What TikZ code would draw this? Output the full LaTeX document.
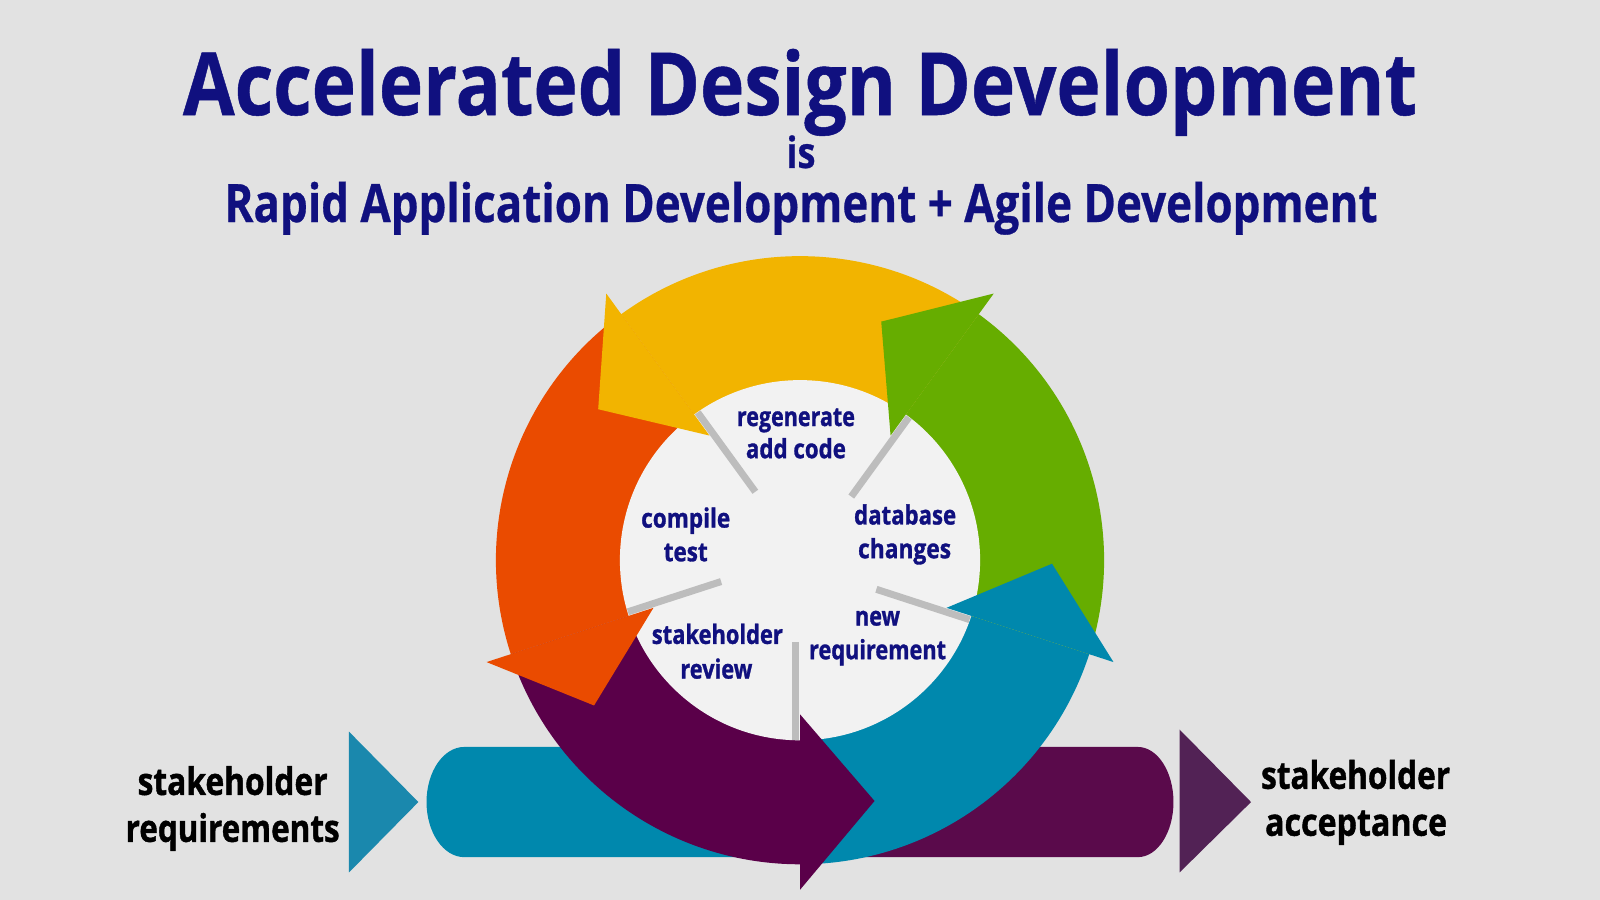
\documentclass[tikz,border=0pt]{standalone}
\usepackage{fontspec}
\setmainfont{Open Sans}
\newfontfamily\heavyfont{Open Sans}[BoldFeatures={FakeBold=1.2}]
\newfontfamily\semiheavy{Open Sans}[BoldFeatures={FakeBold=0.6}]
\usepackage{graphicx}
\usetikzlibrary{calc}
\definecolor{bgc}{HTML}{E2E2E2}
\definecolor{navy}{HTML}{10107F}
\definecolor{yell}{HTML}{F2B400}
\definecolor{grn}{HTML}{66AD00}
\definecolor{tealc}{HTML}{0088AD}
\definecolor{purp}{HTML}{5A0049}
\definecolor{orng}{HTML}{EA4B00}
\definecolor{disk}{HTML}{F2F2F2}
\definecolor{divc}{HTML}{BDBDBD}
\definecolor{barpurp}{HTML}{5A0A4B}
\definecolor{tril}{HTML}{1A88AD}
\definecolor{trir}{HTML}{522255}
\tikzset{
  ttl/.style={text=navy, anchor=base, inner sep=0pt, font=\semiheavy\bfseries\fontsize{87}{87}\selectfont},
  sub/.style={text=navy, anchor=base, inner sep=0pt, font=\semiheavy\bfseries\fontsize{53}{53}\selectfont},
  isl/.style={text=navy, anchor=base, inner sep=0pt, font=\semiheavy\bfseries\fontsize{43}{43}\selectfont},
  lbl/.style={text=navy, anchor=base, inner sep=0pt, font=\heavyfont\bfseries\fontsize{26.5}{26.5}\selectfont},
  side/.style={text=black, anchor=base, inner sep=0pt, font=\heavyfont\bfseries\fontsize{38}{38}\selectfont},
  divider/.style={draw=divc, line width=7pt},
}
\newcommand{\fitw}[2]{\resizebox{#1}{\height}{#2}}
\begin{document}
\begin{tikzpicture}[x=1.0204pt,y=-1.0204pt]
\useasboundingbox (0,0) rectangle (1568,882);
\fill[bgc] (0,0) rectangle (1568,882);

% titles
\node[ttl] (title) at (784,112.7) {\fitw{1234pt}{Accelerated Design Development}};
\node[isl] (is) at (785,164.6) {\fitw{29pt}{is}};
\node[sub] (sub) at (785,217.6) {\fitw{1153pt}{Rapid Application Development + Agile Development}};

% bottom bar
\fill[tealc] (800,732) -- (455,732) arc[start angle=270, end angle=90, x radius=37, y radius=54] -- (800,840) -- cycle;
\fill[barpurp] (800,732) -- (1115,732) arc[start angle=-90, end angle=90, x radius=35, y radius=54] -- (800,840) -- cycle;

% side chevrons
\fill[tril] (342,717) -- (410,786) -- (342,855) -- cycle;
\fill[trir] (1156,715) -- (1226,786) -- (1156,855) -- cycle;

% cycle
\begin{scope}[shift={(784,549)}]
  \foreach \a/\c in {18/tealc,90/purp,162/orng,234/yell,306/grn}{
    \pgfmathsetmacro{\b}{\a+72}
    \fill[\c] (\a:176) arc[start angle=\a, end angle=\b, radius=176]
      -- (\b:298) arc[start angle=\b, end angle=\a, radius=298] -- cycle;
  }
  \fill[disk] (0,0) circle[radius=176.5];
  \foreach \a in {18,90,162,234,306}{
    \pgfmathsetmacro{\p}{\a+90}
    \draw[divider] ($(\a:80)+(\p:4)$) -- ($(\a:176)+(\p:4)$);
  }
  \foreach \a/\c in {18/tealc,90/purp,162/orng,234/yell,306/grn}{
    \pgfmathsetmacro{\t}{\a-17.2}
    \fill[\c] (\a:151) -- (\a:323) -- (\t:247) -- cycle;
  }
\end{scope}

% circle labels
\node[lbl] (l1a) at (780,417.5) {\fitw{118pt}{regenerate}};
\node[lbl] (l1b) at (780,449) {\fitw{100pt}{add code}};
\node[lbl] (l2a) at (672,517) {\fitw{89pt}{compile}};
\node[lbl] (l2b) at (672,550) {\fitw{44pt}{test}};
\node[lbl] (l3a) at (887,514) {\fitw{102pt}{database}};
\node[lbl] (l3b) at (886.5,547) {\fitw{93pt}{changes}};
\node[lbl] (l4a) at (860,613) {\fitw{45pt}{new}};
\node[lbl] (l4b) at (860,646) {\fitw{137pt}{requirement}};
\node[lbl] (l5a) at (703,631) {\fitw{131pt}{stakeholder}};
\node[lbl] (l5b) at (702,665) {\fitw{72pt}{review}};

% side labels
\node[side] (sr1) at (228,779) {\fitw{190pt}{stakeholder}};
\node[side] (sr2) at (228,825) {\fitw{214pt}{requirements}};
\node[side] (sa1) at (1328.5,773) {\fitw{189pt}{stakeholder}};
\node[side] (sa2) at (1329,819) {\fitw{182pt}{acceptance}};
\end{tikzpicture}
\end{document}
